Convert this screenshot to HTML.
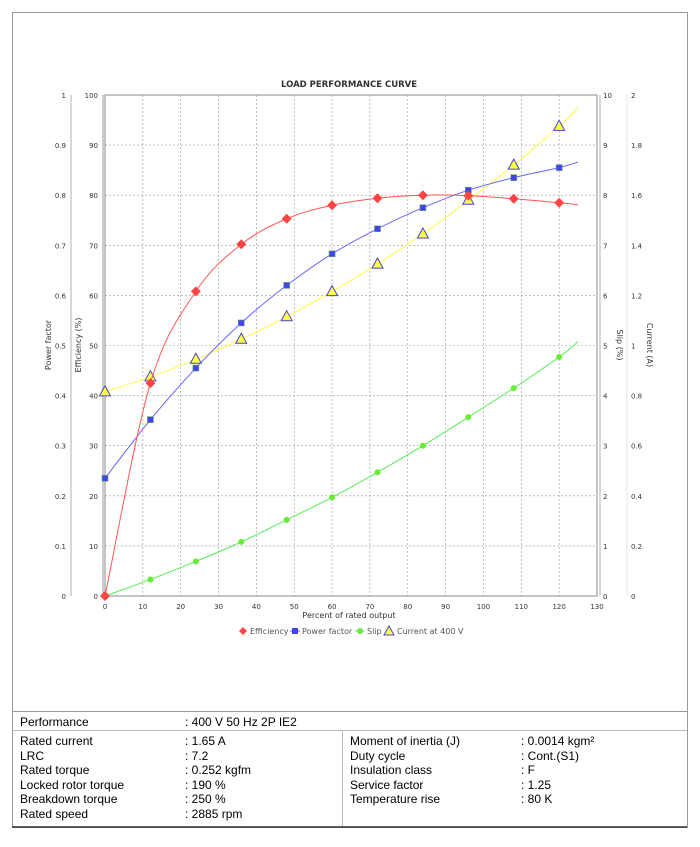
<!DOCTYPE html>
<html><head><meta charset="utf-8"><style>
body{margin:0;background:#fff;font-family:"Liberation Sans",sans-serif;}
#wrap{position:relative;width:700px;height:847px;}
svg text{font-family:"DejaVu Sans","Liberation Sans",sans-serif;}
.tbl{position:absolute;font-size:12px;color:#000;}
</style></head><body>
<div id="wrap">
<svg id="chart" width="700" height="847" style="position:absolute;left:0;top:0">
<rect x="12.5" y="12.5" width="675" height="815" fill="none" stroke="#999"/>
<text x="349" y="87" text-anchor="middle" font-size="8.5" font-weight="bold" fill="#333">LOAD PERFORMANCE CURVE</text>
<g id="grid"></g><g id="axes"></g><g id="series"></g>
<text x="349" y="618" text-anchor="middle" font-size="8" fill="#333">Percent of rated output</text>
<text transform="translate(51,345) rotate(-90)" text-anchor="middle" font-size="8" fill="#333">Power factor</text>
<text transform="translate(81,345) rotate(-90)" text-anchor="middle" font-size="8" fill="#333">Efficiency (%)</text>
<text transform="translate(617,345) rotate(90)" text-anchor="middle" font-size="8" fill="#333">Slip (%)</text>
<text transform="translate(647,345) rotate(90)" text-anchor="middle" font-size="8" fill="#333">Current (A)</text>
<g font-size="8" fill="#555">
<g><polygon points="243,627 247,631 243,635 239,631" fill="#f44"/><text x="250" y="634">Efficiency</text></g>
<g><line x1="290" y1="631" x2="300" y2="631" stroke="#66f"/><rect x="292" y="628" width="6" height="6" fill="#44e"/><text x="302" y="634">Power factor</text></g>
<g><line x1="355" y1="631" x2="365" y2="631" stroke="#6e6"/><circle cx="360" cy="631" r="3" fill="#6e3"/><text x="367" y="634">Slip</text></g>
<g><polygon points="389,626 394,635 384,635" fill="#ff4" stroke="#44c"/><text x="397" y="634">Current at 400 V</text></g>
</g>
<line x1="12" y1="711.5" x2="687" y2="711.5" stroke="#999"/>
<line x1="12" y1="730.5" x2="687" y2="730.5" stroke="#bbb"/>
<line x1="342.5" y1="731" x2="342.5" y2="827" stroke="#bbb"/>
<line x1="12" y1="827" x2="687" y2="827" stroke="#333" stroke-width="1.5"/>
</svg>
<div class="tbl" style="left:20px;top:715px">Performance</div>
<div class="tbl" style="left:185px;top:715px">: 400 V 50 Hz 2P IE2</div>
<div class="tbl" style="left:20px;top:734px;line-height:14.5px">Rated current<br>LRC<br>Rated torque<br>Locked rotor torque<br>Breakdown torque<br>Rated speed</div>
<div class="tbl" style="left:185px;top:734px;line-height:14.5px">: 1.65 A<br>: 7.2<br>: 0.252 kgfm<br>: 190 %<br>: 250 %<br>: 2885 rpm</div>
<div class="tbl" style="left:350px;top:734px;line-height:14.5px">Moment of inertia (J)<br>Duty cycle<br>Insulation class<br>Service factor<br>Temperature rise</div>
<div class="tbl" style="left:521px;top:734px;line-height:14.5px">: 0.0014 kgm²<br>: Cont.(S1)<br>: F<br>: 1.25<br>: 80 K</div>
</div>
<script>
const xs=[0,12,24,36,48,60,72,84,96,108,120];
const efficiency=[0,42.5,60.8,70.2,75.3,78,79.4,80,79.9,79.3,78.5];
const powerFactor=[0.235,0.352,0.455,0.545,0.62,0.683,0.733,0.775,0.81,0.835,0.855];
const slip=[0,0.33,0.69,1.08,1.52,1.97,2.47,3.0,3.57,4.15,4.77];
const current=[0.815,0.875,0.945,1.025,1.115,1.215,1.325,1.445,1.58,1.72,1.875];
const curveEndX=125;
const efficiencyEnd=78.1, powerFactorEnd=0.866, slipEnd=5.08, currentEnd=1.95;
const xTicks=[0,10,20,30,40,50,60,70,80,90,100,110,120,130];
const effTicks=["0","10","20","30","40","50","60","70","80","90","100"];
const pfTicks=["0","0.1","0.2","0.3","0.4","0.5","0.6","0.7","0.8","0.9","1"];
const slipTicks=["0","1","2","3","4","5","6","7","8","9","10"];
const curTicks=["0","0.2","0.4","0.6","0.8","1","1.2","1.4","1.6","1.8","2"];
const NS='http://www.w3.org/2000/svg';
const X0=105,X1=597,Y0=596,Y1=95;
const sx=v=>X0+(v/130)*(X1-X0);
const sy=f=>Y0-f*(Y0-Y1); // f in 0..1
function mk(t,a,p){const e=document.createElementNS(NS,t);for(const k in a)e.setAttribute(k,a[k]);p.appendChild(e);return e;}
const grid=document.getElementById('grid'),axes=document.getElementById('axes'),ser=document.getElementById('series');
xTicks.forEach(v=>{if(v>0&&v<130){const l=mk('line',{x1:sx(v),x2:sx(v),y1:Y1,y2:Y0,stroke:'#999','stroke-dasharray':'2,2','stroke-width':0.6},grid);}
 const t=mk('text',{x:sx(v),y:Y0+13,'text-anchor':'middle','font-size':7,fill:'#333'},axes);t.textContent=v;});
for(let i=0;i<=10;i++){const y=sy(i/10);
 if(i>0&&i<10){const l=mk('line',{x1:X0,x2:X1,y1:y,y2:y,stroke:'#999','stroke-dasharray':'2,2','stroke-width':0.6},grid);}
 [[66,pfTicks,'end'],[98,effTicks,'end'],[603,slipTicks,'start'],[631,curTicks,'start']].forEach(([x,arr,an])=>{const t=mk('text',{x:x,y:y+3,'text-anchor':an,'font-size':7,fill:'#333'},axes);t.textContent=arr[i];});
}
mk('rect',{x:X0,y:Y1,width:X1-X0,height:Y0-Y1,fill:'none',stroke:'#888'},axes);
[[71,'#ccc'],[103,'#bbb'],[600,'#ccc'],[627,'#eee']].forEach(([x,c])=>{const l=mk('line',{x1:x,x2:x,y1:Y1,y2:Y0,stroke:c,'stroke-width':1.5},axes);});
function path(pts){let d='M'+pts[0][0]+','+pts[0][1];for(let i=0;i<pts.length-1;i++){const p0=pts[i-1]||pts[i],p1=pts[i],p2=pts[i+1],p3=pts[i+2]||p2;
 d+=' C'+(p1[0]+(p2[0]-p0[0])/6)+','+(p1[1]+(p2[1]-p0[1])/6)+' '+(p2[0]-(p3[0]-p1[0])/6)+','+(p2[1]-(p3[1]-p1[1])/6)+' '+p2[0]+','+p2[1];}return d;}
function series(vals,end,scale,color,name,marker){
 const pts=xs.map((x,i)=>[sx(x),sy(vals[i]/scale)]);pts.push([sx(curveEndX),sy(end/scale)]);
 const p=mk('path',{d:path(pts),fill:'none',stroke:color,'stroke-width':1},ser);
 xs.forEach((x,i)=>{const cx=sx(x),cy=sy(vals[i]/scale);let m;
  if(marker==='d')m=mk('polygon',{points:`${cx},${cy-5} ${cx+5},${cy} ${cx},${cy+5} ${cx-5},${cy}`,fill:'#f44'},ser);
  else if(marker==='s')m=mk('rect',{x:cx-3,y:cy-3,width:6,height:6,fill:'#44e',stroke:'#6a6','stroke-width':0.6},ser);
  else if(marker==='c')m=mk('circle',{cx:cx,cy:cy,r:3,fill:'#6e3'},ser);
  else m=mk('polygon',{points:`${cx},${cy-6} ${cx+5.5},${cy+4} ${cx-5.5},${cy+4}`,fill:'#ff4',stroke:'#44c'},ser);
  });
}
series(slip,slipEnd,10,'#5e5','slip','c');
series(current,currentEnd,2,'#ff4','current','t');
series(powerFactor,powerFactorEnd,1,'#66f','power-factor','s');
series(efficiency,efficiencyEnd,100,'#f55','efficiency','d');
</script>
</body></html>
